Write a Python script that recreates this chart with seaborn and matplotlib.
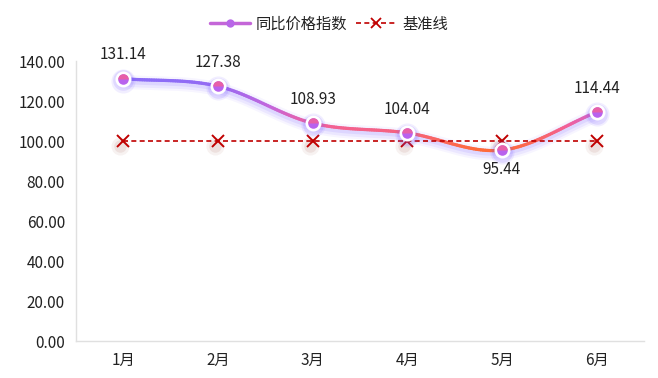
import numpy as np
import pandas as pd
import matplotlib
matplotlib.use("Agg")
import matplotlib.pyplot as plt
import seaborn as sns
from matplotlib.collections import LineCollection
from matplotlib.colors import LinearSegmentedColormap
from matplotlib.lines import Line2D

months = ["1月", "2月", "3月", "4月", "5月", "6月"]
index_values = [131.14, 127.38, 108.93, 104.04, 95.44, 114.44]
baseline_values = [100, 100, 100, 100, 100, 100]
y_ticks = [0, 20, 40, 60, 80, 100, 120, 140]
series_names = ["同比价格指数", "基准线"]

sns.set_theme(style="white")
plt.rcParams["font.family"] = ["Noto Sans CJK SC", "DejaVu Sans"]

W, H = 658, 378
fig = plt.figure(figsize=(W / 100, H / 100), dpi=100)
ax = fig.add_axes([76 / W, 37 / H, (644 - 76) / W, (341 - 61) / H])

x = np.arange(len(months))
df = pd.DataFrame({"month": x, "value": index_values, "base": baseline_values})

def smooth(xs, ys, n=40, t=0.5):
    xs = np.asarray(xs, float); ys = np.asarray(ys, float)
    px, py = [], []
    for i in range(len(xs) - 1):
        p0 = i - 1 if i > 0 else i
        p3 = i + 2 if i + 2 < len(xs) else i + 1
        m1x = (xs[i + 1] - xs[p0]) * t / (i + 1 - p0); m1y = (ys[i + 1] - ys[p0]) * t / (i + 1 - p0)
        m2x = (xs[p3] - xs[i]) * t / (p3 - i); m2y = (ys[p3] - ys[i]) * t / (p3 - i)
        s = np.linspace(0, 1, n, endpoint=False)
        h00 = 2 * s**3 - 3 * s**2 + 1; h10 = s**3 - 2 * s**2 + s
        h01 = -2 * s**3 + 3 * s**2; h11 = s**3 - s**2
        px.extend(h00 * xs[i] + h10 * m1x * 2 + h01 * xs[i + 1] + h11 * m2x * 2)
        py.extend(h00 * ys[i] + h10 * m1y * 2 + h01 * ys[i + 1] + h11 * m2y * 2)
    px.append(xs[-1]); py.append(ys[-1])
    return np.array(px), np.array(py)

sx, sy = smooth(x, index_values)
pts = np.column_stack([sx, sy]).reshape(-1, 1, 2)
segs = np.concatenate([pts[:-1], pts[1:]], axis=1)
cmap = LinearSegmentedColormap.from_list("g", [(0, "#ff6a3a"), (0.35, "#f2609a"), (0.6, "#c466dc"), (1, "#8a6cf8")])
norm = plt.Normalize(min(index_values), max(index_values))

for lw, a, off in [(10, 0.06, -1.5), (7, 0.09, -1.5), (4.5, 0.12, -1.0)]:
    ax.plot(sx, sy + off, color="#7b5cff", lw=lw, alpha=a, solid_capstyle="round", zorder=2)
lc = LineCollection(segs, cmap=cmap, norm=norm, lw=2.3, zorder=3, capstyle="round")
lc.set_array((sy[:-1] + sy[1:]) / 2)
ax.add_collection(lc)

# baseline marker shadows
for sz, a in [(13, 0.07), (9, 0.10)]:
    ax.plot(x - 0.03, np.array(baseline_values) - 2.5, ls="none", marker="o", markersize=sz,
            color="#9b4a3a", alpha=a, markeredgewidth=0, zorder=3)
sns.lineplot(data=df, x="month", y="base", ax=ax, color="#c00000", lw=1.2,
             linestyle=(0, (3, 2)), marker="x", markersize=8, markeredgewidth=1.4,
             markeredgecolor="#c00000", zorder=4)

# points
ax.scatter(x, np.array(index_values) - 1.0, s=300, color="#7b5cff", alpha=0.10, zorder=4, lw=0)
ax.scatter(x, np.array(index_values) - 0.8, s=220, color="#7b5cff", alpha=0.15, zorder=4, lw=0)
ax.plot(x, index_values, ls="none", marker="o", markersize=11.5, markerfacecolor="white",
        markeredgewidth=0, zorder=5)
ax.plot(x, index_values, ls="none", marker="o", markersize=7.6, markeredgewidth=0,
        markerfacecolor="#b862ee", zorder=6)
ax.plot(x, index_values, ls="none", marker="o", markersize=7.6, markeredgewidth=0,
        markerfacecolor="#f0609c", fillstyle="top", markerfacecoloralt="none", alpha=0.85, zorder=7)

for xi, v in zip(x, index_values):
    if v < 100:
        ax.annotate(f"{v:.2f}", (xi, v), xytext=(0, -8), textcoords="offset points",
                    ha="center", va="top", fontsize=11, color="#222222")
    else:
        ax.annotate(f"{v:.2f}", (xi, v), xytext=(0, 11), textcoords="offset points",
                    ha="center", va="bottom", fontsize=11, color="#222222")

ax.set_xlim(-0.5, len(months) - 0.5)
ax.set_ylim(0, 140)
ax.set_yticks(y_ticks)
ax.set_yticklabels([f"{t:.2f}" for t in y_ticks], fontsize=11, color="#222222")
ax.set_xticks(x)
ax.set_xticklabels(months, fontsize=11, color="#222222")
ax.set_xlabel(""); ax.set_ylabel("")
ax.tick_params(axis="both", length=0)
ax.tick_params(axis="y", pad=8)
ax.tick_params(axis="x", pad=8)
for s in ["top", "right"]:
    ax.spines[s].set_visible(False)
for s in ["left", "bottom"]:
    ax.spines[s].set_color("#e0e0e0")
    ax.spines[s].set_linewidth(1)
ax.grid(False)

handles = [
    Line2D([0], [0], color="#c466d8", lw=2.5, marker="o", markersize=6,
           markerfacecolor="#b866e8", markeredgecolor="white", markeredgewidth=0),
    Line2D([0], [0], color="#c00000", lw=1.2, linestyle=(0, (3, 2)), marker="x",
           markersize=7, markeredgewidth=1.3),
]
fig.legend(handles, series_names, loc="upper center", bbox_to_anchor=(0.5, 0.995),
           ncol=2, frameon=False, fontsize=11, handlelength=2.6, columnspacing=0.6,
           handletextpad=0.4, labelcolor="#222222")

fig.savefig("out.png", dpi=100)
